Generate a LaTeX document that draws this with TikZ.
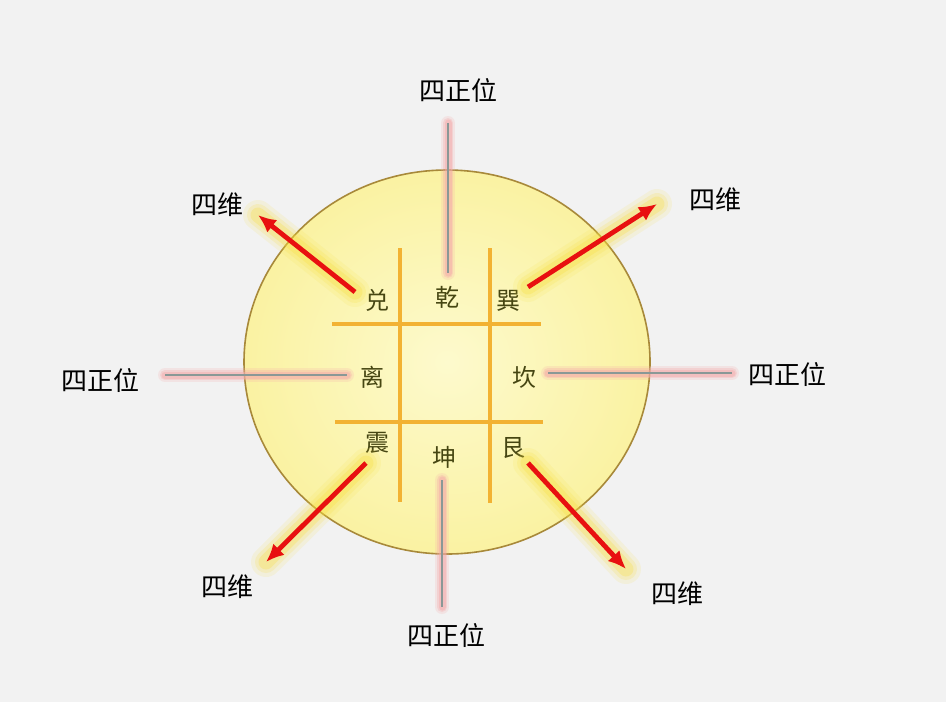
\documentclass[tikz,border=0pt]{standalone}
\usepackage{fontspec}
\newfontfamily\cjk{Noto Sans CJK SC}
\usepackage{tikz}
\usetikzlibrary{arrows.meta}

\definecolor{bggray}{RGB}{242,242,242}
\definecolor{discin}{RGB}{253,250,205}
\definecolor{discout}{RGB}{250,242,162}
\definecolor{discrim}{RGB}{168,137,58}
\definecolor{gridorange}{RGB}{242,178,51}
\definecolor{guaolive}{RGB}{70,70,18}
\definecolor{stemgray}{RGB}{138,152,150}
\definecolor{stempink}{RGB}{245,170,170}
\definecolor{arrowred}{RGB}{232,16,16}
\definecolor{glowyellow}{RGB}{248,222,60}

\begin{document}
\begin{tikzpicture}[x=0.5pt,y=-0.5pt]

   \fill[bggray] (0,0) rectangle (946,702);
   \useasboundingbox (0,0) rectangle (946,702);

   % disc
   \shade[inner color=discin, outer color=discout] (447,362) ellipse [x radius=203, y radius=192];
   \draw[discrim, line width=0.8pt] (447,362) ellipse [x radius=203, y radius=192];

   % grid of the nine palaces
   \draw[gridorange, line width=2pt] (400,248) -- (400,502);
   \draw[gridorange, line width=2pt] (490,248) -- (490,503);
   \draw[gridorange, line width=2pt] (332,324) -- (541,324);
   \draw[gridorange, line width=2pt] (335,422) -- (543,422);

   % trigram names
   \node[font=\cjk\fontsize{12}{12}\selectfont, text=guaolive] (dui)  at (377,300) {兑};
   \node[font=\cjk\fontsize{12}{12}\selectfont, text=guaolive] (qian) at (447,297) {乾};
   \node[font=\cjk\fontsize{12}{12}\selectfont, text=guaolive] (xun)  at (508,301) {巽};
   \node[font=\cjk\fontsize{12}{12}\selectfont, text=guaolive] (li)   at (372,377) {离};
   \node[font=\cjk\fontsize{12}{12}\selectfont, text=guaolive] (kan)  at (524,377) {坎};
   \node[font=\cjk\fontsize{12}{12}\selectfont, text=guaolive] (zhen) at (377,443) {震};
   \node[font=\cjk\fontsize{12}{12}\selectfont, text=guaolive] (kun)  at (444,457) {坤};
   \node[font=\cjk\fontsize{12}{12}\selectfont, text=guaolive] (gen)  at (513,448) {艮};

   % outer labels
   \node[font=\cjk\fontsize{13}{13}\selectfont] (zhengN) at (458,90)  {四正位};
   \node[font=\cjk\fontsize{13}{13}\selectfont] (zhengS) at (446,635) {四正位};
   \node[font=\cjk\fontsize{13}{13}\selectfont] (zhengW) at (100,380) {四正位};
   \node[font=\cjk\fontsize{13}{13}\selectfont] (zhengE) at (787,374) {四正位};
   \node[font=\cjk\fontsize{13}{13}\selectfont] (weiNW)  at (217,205) {四维};
   \node[font=\cjk\fontsize{13}{13}\selectfont] (weiNE)  at (715,200) {四维};
   \node[font=\cjk\fontsize{13}{13}\selectfont] (weiSW)  at (227,587) {四维};
   \node[font=\cjk\fontsize{13}{13}\selectfont] (weiSE)  at (677,594) {四维};

   % ends of the stems and arrows
   \coordinate (nA) at (448,123);  \coordinate (nB) at (448,273);
   \coordinate (sA) at (442,480);  \coordinate (sB) at (442,607);
   \coordinate (wA) at (165,375);  \coordinate (wB) at (347,375);
   \coordinate (eA) at (548,373);  \coordinate (eB) at (732,373);
   \coordinate (nwA) at (355,292); \coordinate (nwB) at (258,215);
   \coordinate (neA) at (528,287); \coordinate (neB) at (657,204);
   \coordinate (swA) at (366,463); \coordinate (swB) at (266,562);
   \coordinate (seA) at (528,463); \coordinate (seB) at (626,569);

   % four cardinal stems
   \foreach \w/\o in {7/0.2,5/0.3,3.5/0.45}{
     \draw[stempink, opacity=\o, line width=\w pt, line cap=round] (nA) -- (nB);
     \draw[stempink, opacity=\o, line width=\w pt, line cap=round] (sA) -- (sB);
     \draw[stempink, opacity=\o, line width=\w pt, line cap=round] (wA) -- (wB);
     \draw[stempink, opacity=\o, line width=\w pt, line cap=round] (eA) -- (eB);
   }
   \draw[stemgray, line width=1.2pt] (nA) -- (nB);
   \draw[stemgray, line width=1.2pt] (sA) -- (sB);
   \draw[stemgray, line width=1.2pt] (wA) -- (wB);
   \draw[stemgray, line width=1.2pt] (eA) -- (eB);

   % four corner arrows
   \foreach \w/\o in {15/0.12,11/0.18,7.5/0.28}{
     \draw[glowyellow, opacity=\o, line width=\w pt, line cap=round] (nwA) -- (nwB);
     \draw[glowyellow, opacity=\o, line width=\w pt, line cap=round] (neA) -- (neB);
     \draw[glowyellow, opacity=\o, line width=\w pt, line cap=round] (swA) -- (swB);
     \draw[glowyellow, opacity=\o, line width=\w pt, line cap=round] (seA) -- (seB);
   }
   \draw[-{Latex[length=9pt,width=8pt]}, arrowred, line width=2.4pt] (nwA) -- (nwB);
   \draw[-{Latex[length=9pt,width=8pt]}, arrowred, line width=2.4pt] (neA) -- (neB);
   \draw[-{Latex[length=9pt,width=8pt]}, arrowred, line width=2.4pt] (swA) -- (swB);
   \draw[-{Latex[length=9pt,width=8pt]}, arrowred, line width=2.4pt] (seA) -- (seB);

  \end{tikzpicture}
\end{document}
